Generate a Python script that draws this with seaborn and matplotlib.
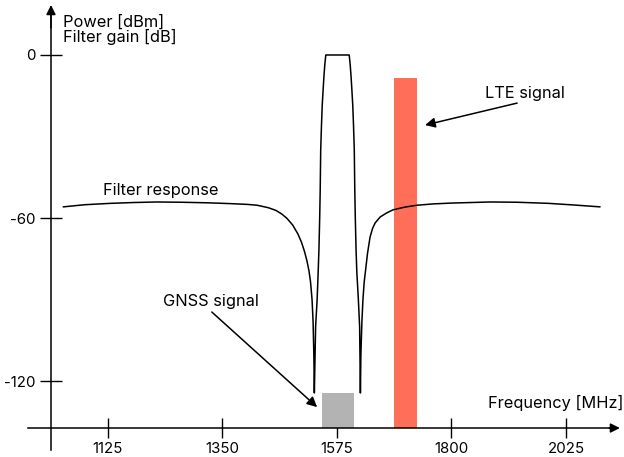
import numpy as np
import pandas as pd
import matplotlib
matplotlib.use("Agg")
import matplotlib.pyplot as plt
import seaborn as sns

# filter response (MHz, dB)
filter_freq = [1037, 1080, 1130, 1175, 1221, 1270, 1320, 1365, 1400, 1418, 1440,
               1455, 1467, 1477, 1488, 1498, 1505, 1511, 1516, 1520, 1523, 1526,
               1528, 1529.5, 1530.5,
               1533, 1536, 1538, 1539.5, 1541, 1542, 1543, 1544.5, 1546, 1548,
               1549.5, 1551, 1553, 1599, 1601, 1602.5, 1604, 1606, 1607.5,
               1609, 1610, 1611, 1612.5, 1614, 1617, 1619.5, 1621,
               1622, 1624, 1626, 1628.5, 1631, 1635, 1640, 1645, 1650, 1660,
               1672, 1685, 1708, 1732, 1765, 1800, 1876, 1930, 1990, 2040, 2092]
filter_gain = [-55.9, -55.1, -54.6, -54.3, -54.1, -54.2, -54.4, -54.7, -55.0, -55.3, -56.2,
               -57.2, -58.6, -60.2, -62.6, -65.8, -68.8, -72.2, -75.8, -79.5, -83.5, -90.0,
               -98.0, -110.0, -124.4,
               -100.0, -90.0, -80.0, -71.8, -60.0, -50.0, -35.0, -26.0, -18.5, -12.0,
               -7.5, -3.7, 0.0, 0.0, -3.7, -7.5, -12.0, -18.5, -26.0,
               -35.0, -50.0, -60.0, -71.8, -80.0, -90.0, -100.0, -124.4,
               -110.0, -98.0, -90.0, -83.5, -79.5, -73.0, -67.0, -63.8, -61.8, -59.6,
               -58.2, -57.0, -56.0, -55.3, -54.8, -54.5, -54.1, -54.2, -54.6, -55.2, -55.9]

# signal blocks: (left MHz, right MHz, top dBm)
gnss_band = (1545, 1608, -124.4)
lte_band = (1687, 1732, -8.5)

xticks = [1125, 1350, 1575, 1800, 2025]
xtick_labels = ["1125", "1350", "1575", "1800", "2025"]
yticks = [-120, -60, 0]
ytick_labels = ["-120", "-60", "0"]

axis_x0 = 1013      # where the y axis crosses
axis_y0 = -137.3    # where the x axis crosses

sns.set_style("white")
plt.rcParams['font.family'] = ['Inter', 'DejaVu Sans']
plt.rcParams['font.size'] = 12
plt.rcParams['text.color'] = 'black'

fig = plt.figure(figsize=(6.24, 4.57), dpi=100)
ax = fig.add_axes([0, 0, 1, 1])
ax.set_xlim(912.8, 2139)
ax.set_ylim(-147.96, 20.24)
ax.patch.set_alpha(0)

df = pd.DataFrame({"freq": filter_freq, "gain": filter_gain})
sns.lineplot(data=df, x="freq", y="gain", ax=ax, color="black", linewidth=1.1,
             sort=False, estimator=None)

for (lo, hi, top), col in [(gnss_band, "#b3b3b3"), (lte_band, "#ff6e59")]:
    ax.bar((lo + hi) / 2, top - axis_y0, width=hi - lo, bottom=axis_y0,
           color=col, linewidth=0, zorder=1)

# axes through the data origin
for s in ["top", "right"]:
    ax.spines[s].set_visible(False)
ax.spines["left"].set_position(("data", axis_x0))
ax.spines["bottom"].set_position(("data", axis_y0))
ax.spines["left"].set_bounds(-145.4, 16)
ax.spines["bottom"].set_bounds(968, 2125)
for s in ["left", "bottom"]:
    ax.spines[s].set_color("black")
    ax.spines[s].set_linewidth(1.1)
    ax.spines[s].set_visible(True)

ax.annotate("", xy=(axis_x0, 18.4), xytext=(axis_x0, 10),
            arrowprops=dict(arrowstyle="-|>", color="black", lw=1.1,
                            mutation_scale=14, shrinkA=0, shrinkB=0))
ax.annotate("", xy=(2131, axis_y0), xytext=(2110, axis_y0),
            arrowprops=dict(arrowstyle="-|>", color="black", lw=1.1,
                            mutation_scale=14, shrinkA=0, shrinkB=0))

ax.set_xticks(xticks)
ax.set_xticklabels(xtick_labels)
ax.set_yticks(yticks)
ax.set_yticklabels(ytick_labels)
ax.tick_params(axis="x", bottom=True, direction="inout", length=14.5, width=1, pad=2.5,
               colors="black", labelsize=10.8)
ax.tick_params(axis="y", left=True, direction="inout", length=16, width=1, pad=3,
               colors="black", labelsize=10.8)
ax.set_xlabel("")
ax.set_ylabel("")

fs = 11.8
ax.text(1036.6, 12.1, "Power [dBm]", ha="left", va="center", fontsize=fs)
ax.text(1036.6, 6.6, "Filter gain [dB]", ha="left", va="center", fontsize=fs)
ax.text(1115, -49.7, "Filter response", ha="left", va="center", fontsize=fs)
ax.text(1233, -90.9, "GNSS signal", ha="left", va="center", fontsize=fs)
ax.text(1866, -14.0, "LTE signal", ha="left", va="center", fontsize=fs)
ax.text(2137, -128.1, "Frequency [MHz]", ha="right", va="center", fontsize=fs)

ax.annotate("", xy=(1536, -129.6), xytext=(1329, -94.6),
            arrowprops=dict(arrowstyle="-|>", color="black", lw=1.1,
                            mutation_scale=15, shrinkA=0, shrinkB=0))
ax.annotate("", xy=(1748, -25.8), xytext=(1929, -17.7),
            arrowprops=dict(arrowstyle="-|>", color="black", lw=1.1,
                            mutation_scale=15, shrinkA=0, shrinkB=0))

fig.savefig("out.png", dpi=100)
